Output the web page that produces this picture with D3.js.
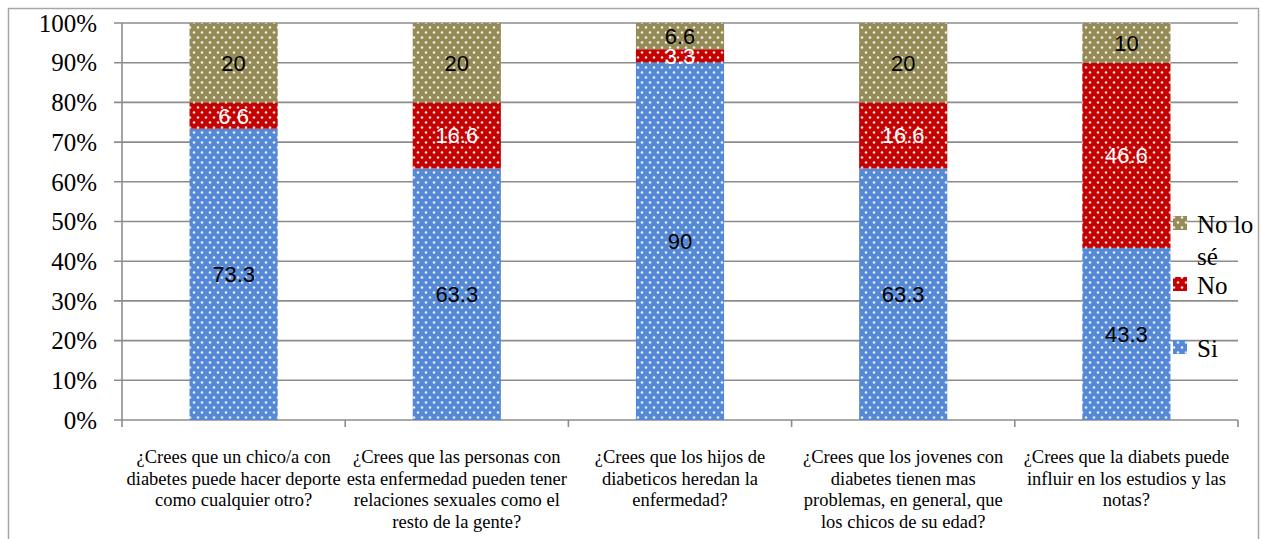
<!DOCTYPE html>
<html>
<head>
<meta charset="utf-8">
<script src="https://cdn.jsdelivr.net/npm/d3@7"></script>
<style>
  html, body { margin: 0; padding: 0; background: #fff; }
  svg { display: block; }
  .serif { font-family: "Liberation Serif", "Times New Roman", serif; }
  .sans { font-family: "Liberation Sans", Arial, sans-serif; }
</style>
</head>
<body>
<svg id="chart" width="1261" height="539"></svg>
<script>
// Survey questions (wrapped into display lines)
const categories = [
  ["¿Crees que un chico/a con", "diabetes puede hacer deporte", "como cualquier otro?"],
  ["¿Crees que las personas con", "esta enfermedad pueden tener", "relaciones sexuales como el", "resto de la gente?"],
  ["¿Crees que los hijos de", "diabeticos heredan la", "enfermedad?"],
  ["¿Crees que los jovenes con", "diabetes tienen mas", "problemas, en general, que", "los chicos de su edad?"],
  ["¿Crees que la diabets puede", "influir en los estudios y las", "notas?"]
];
const seriesNames = ["Si", "No", "No lo sé"];
const siValues = [73.3, 63.3, 90, 63.3, 43.3];
const noValues = [6.6, 16.6, 3.3, 16.6, 46.6];
const noSeValues = [20, 20, 6.6, 20, 10];
const yTicks = [0, 0.1, 0.2, 0.3, 0.4, 0.5, 0.6, 0.7, 0.8, 0.9, 1.0];

const colors = { "Si": "#5589d6", "No": "#c40000", "No lo sé": "#958b57" };
const labelColors = { "Si": "#000", "No": "#fff", "No lo sé": "#000" };

const svg = d3.select("#chart");
const margin = { left: 122, right: 1238, top: 23, bottom: 420 };

// Dotted fill patterns
const defs = svg.append("defs");
seriesNames.forEach((name, i) => {
  const p = defs.append("pattern")
    .attr("id", "pat" + i)
    .attr("patternUnits", "userSpaceOnUse")
    .attr("width", 8).attr("height", 10);
  p.append("rect").attr("width", 8).attr("height", 10).attr("fill", colors[name]);
  [[2, 2.5], [6, 7.5]].forEach(([cx, cy]) => {
    p.append("circle").attr("cx", cx).attr("cy", cy).attr("r", 1.3)
      .attr("fill", "#fff").attr("opacity", 0.85);
  });
});

// Outer chart border
svg.append("rect")
  .attr("x", 8.5).attr("y", 8.5).attr("width", 1250).attr("height", 560)
  .attr("fill", "none").attr("stroke", "#a6a6a6").attr("stroke-width", 1.5);

const x = d3.scaleBand()
  .domain(d3.range(categories.length))
  .range([margin.left, margin.right])
  .paddingInner(0.605).paddingOuter(0.3025);
const xOuter = d3.scaleBand()
  .domain(d3.range(categories.length))
  .range([margin.left, margin.right]);
const y = d3.scaleLinear().domain([0, 1]).range([margin.bottom, margin.top]);

// Horizontal gridlines with short outward ticks
svg.append("g").selectAll("line").data(yTicks).join("line")
  .attr("x1", margin.left - 8).attr("x2", margin.right)
  .attr("y1", d => y(d)).attr("y2", d => y(d))
  .attr("stroke", "#8c8c8c").attr("stroke-width", 1.6);

// Y tick labels
svg.append("g").selectAll("text").data(yTicks).join("text")
  .attr("class", "serif")
  .attr("x", 97).attr("y", d => y(d))
  .attr("dy", "0.35em")
  .attr("text-anchor", "end")
  .attr("font-size", 25)
  .attr("fill", "#000")
  .text(d => d3.format(".0%")(d));

// Stacked data (normalized to 100%)
const rows = categories.map((c, i) => ({
  i, "Si": siValues[i], "No": noValues[i], "No lo sé": noSeValues[i]
}));
const stack = d3.stack().keys(seriesNames).offset(d3.stackOffsetExpand);
const layers = stack(rows);

layers.forEach((layer, si) => {
  svg.append("g").selectAll("rect").data(layer).join("rect")
    .attr("x", d => x(d.data.i))
    .attr("width", x.bandwidth())
    .attr("y", d => y(d[1]))
    .attr("height", d => y(d[0]) - y(d[1]))
    .attr("fill", `url(#pat${si})`);
});

// Value labels
layers.forEach((layer, si) => {
  const name = seriesNames[si];
  svg.append("g").selectAll("text").data(layer).join("text")
    .attr("class", "sans")
    .attr("x", d => x(d.data.i) + x.bandwidth() / 2)
    .attr("y", d => (y(d[0]) + y(d[1])) / 2)
    .attr("dy", "0.36em")
    .attr("text-anchor", "middle")
    .attr("font-size", 22)
    .attr("fill", labelColors[name])
    .text(d => d.data[name]);
});

// Axis lines
svg.append("line")
  .attr("x1", margin.left).attr("x2", margin.left)
  .attr("y1", margin.top).attr("y2", margin.bottom)
  .attr("stroke", "#8c8c8c").attr("stroke-width", 1.6);
const catTicks = d3.range(categories.length + 1).map(i => margin.left + i * xOuter.step());
svg.append("g").selectAll("line").data(catTicks).join("line")
  .attr("x1", d => d).attr("x2", d => d)
  .attr("y1", margin.bottom).attr("y2", margin.bottom + 7)
  .attr("stroke", "#8c8c8c").attr("stroke-width", 1.6);

// Category labels
categories.forEach((lines, i) => {
  const cx = xOuter(i) + xOuter.bandwidth() / 2;
  const t = svg.append("text")
    .attr("class", "serif")
    .attr("font-size", 18.5)
    .attr("fill", "#000")
    .attr("text-anchor", "middle")
    .attr("x", cx).attr("y", 463);
  lines.forEach((ln, k) => {
    t.append("tspan").attr("x", cx).attr("y", 463 + k * 21.7).text(ln);
  });
});

// Legend
const legendItems = [
  { name: "No lo sé", idx: 2, cy: 223, lines: [["No lo", 233], ["sé", 265]] },
  { name: "No", idx: 1, cy: 284, lines: [["No", 294]] },
  { name: "Si", idx: 0, cy: 347, lines: [["Si", 357]] }
];
const lg = svg.append("g");
legendItems.forEach(it => {
  lg.append("rect")
    .attr("x", 1173).attr("y", it.cy - 7).attr("width", 14).attr("height", 14)
    .attr("fill", `url(#pat${it.idx})`);
  it.lines.forEach(([txt, by]) => {
    lg.append("text")
      .attr("class", "serif")
      .attr("x", 1197).attr("y", by)
      .attr("font-size", 25)
      .attr("fill", "#000")
      .text(txt);
  });
});
</script>
</body>
</html>
